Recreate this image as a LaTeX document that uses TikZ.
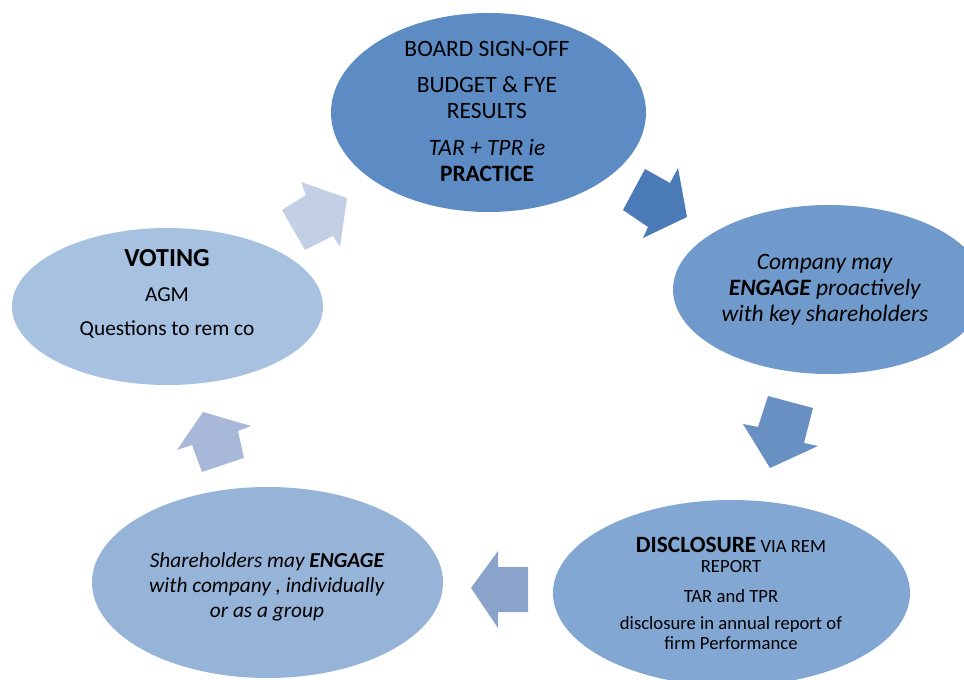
\documentclass[tikz,border=0pt]{standalone}
\usepackage{fontspec}
\setmainfont{Carlito}
\usetikzlibrary{shapes.geometric}
\definecolor{cTop}{HTML}{5D8CC5}
\definecolor{cRight}{HTML}{6F9ACB}
\definecolor{cDisc}{HTML}{82A7D3}
\definecolor{cShare}{HTML}{96B3D8}
\definecolor{cVote}{HTML}{A7C1E1}
\definecolor{aOne}{HTML}{4A7BB7}
\definecolor{aTwo}{HTML}{6990C2}
\definecolor{aThree}{HTML}{8AA3CB}
\definecolor{aFour}{HTML}{A7B8D8}
\definecolor{aFive}{HTML}{C3CFE5}
\tikzset{
  blob/.style={ellipse, inner sep=0pt, draw=none},
  txt/.style={anchor=base, inner sep=0pt, text=black},
  big/.style={font=\fontsize{17.6}{19.5}\selectfont},
  mid/.style={font=\fontsize{16}{18}\selectfont},
  small/.style={font=\fontsize{14}{15.5}\selectfont},
}
\begin{document}
\begin{tikzpicture}[x=0.75pt, y=-0.75pt]
\useasboundingbox (0,0) rectangle (964,680);
\clip (0,0) rectangle (964,680);
% ellipses
\node[blob, fill=cTop, minimum width=315*0.75pt, minimum height=199*0.75pt] (top) at (488.5,112.5) {};
\node[blob, fill=cRight, minimum width=312*0.75pt, minimum height=169*0.75pt] (right) at (829,289.5) {};
\node[blob, fill=cDisc, minimum width=357*0.75pt, minimum height=186*0.75pt] (disc) at (731.5,593) {};
\node[blob, fill=cShare, minimum width=351*0.75pt, minimum height=191*0.75pt] (share) at (267.5,582.5) {};
\node[blob, fill=cVote, minimum width=311*0.75pt, minimum height=157*0.75pt] (vote) at (167.5,306.5) {};
% block arrows
\fill[aOne] (623,210) -- (645,169) -- (670,183) -- (678,168) -- (687,217) -- (643,238) -- (648,227) -- cycle;
\fill[aTwo] (768,396) -- (813,408) -- (804,443) -- (818,446) -- (770,468) -- (743,424) -- (758,427) -- cycle;
\fill[aThree] (471,588) -- (498,551) -- (498,567) -- (528,567) -- (528,612) -- (498,612) -- (498,628) -- cycle;
\fill[aFour] (177,450) -- (203,412) -- (251,426) -- (238,431) -- (244,458) -- (202,472) -- (192,445) -- cycle;
\fill[aFive] (282,210) -- (306,195) -- (301,182) -- (347,198) -- (340,247) -- (333,236) -- (305,250) -- cycle;
% top text
\node[txt, big] (t1) at (487,57) {BOARD SIGN-OFF};
\node[txt, big] (t2) at (487,93) {BUDGET \& FYE};
\node[txt, big] (t3) at (487,119) {RESULTS};
\node[txt, big] (t4) at (487,156) {\textit{TAR + TPR ie}};
\node[txt, big] (t5) at (487,182) {\textbf{PRACTICE}};
% right text
\node[txt, big] (r1) at (825,270) {\textit{Company may}};
\node[txt, big] (r2) at (825,296) {\textit{\textbf{ENGAGE} proactively}};
\node[txt, big] (r3) at (825,322) {\textit{with key shareholders}};
% disclosure text
\node[txt, small] (d1) at (731,552) {{\fontsize{17.5}{19}\selectfont\textbf{DISCLOSURE}} VIA REM};
\node[txt, small] (d2) at (731,573) {REPORT};
\node[txt, small] (d3) at (731,602) {TAR and TPR};
\node[txt, small] (d4) at (731,629) {disclosure in annual report of};
\node[txt, small] (d5) at (731,649) {firm Performance};
% shareholders text
\node[txt, mid] (s1) at (267,568) {\textit{Shareholders may \textbf{ENGAGE}}};
\node[txt, mid] (s2) at (267,593) {\textit{with company , individually}};
\node[txt, mid] (s3) at (267,617) {\textit{or as a group}};
% voting text
\node[txt, font=\fontsize{19.5}{21}\selectfont] (v1) at (167,267) {\textbf{VOTING}};
\node[txt, mid] (v2) at (167,302) {AGM};
\node[txt, mid] (v3) at (167,336) {Questions to rem co};
\end{tikzpicture}
\end{document}
